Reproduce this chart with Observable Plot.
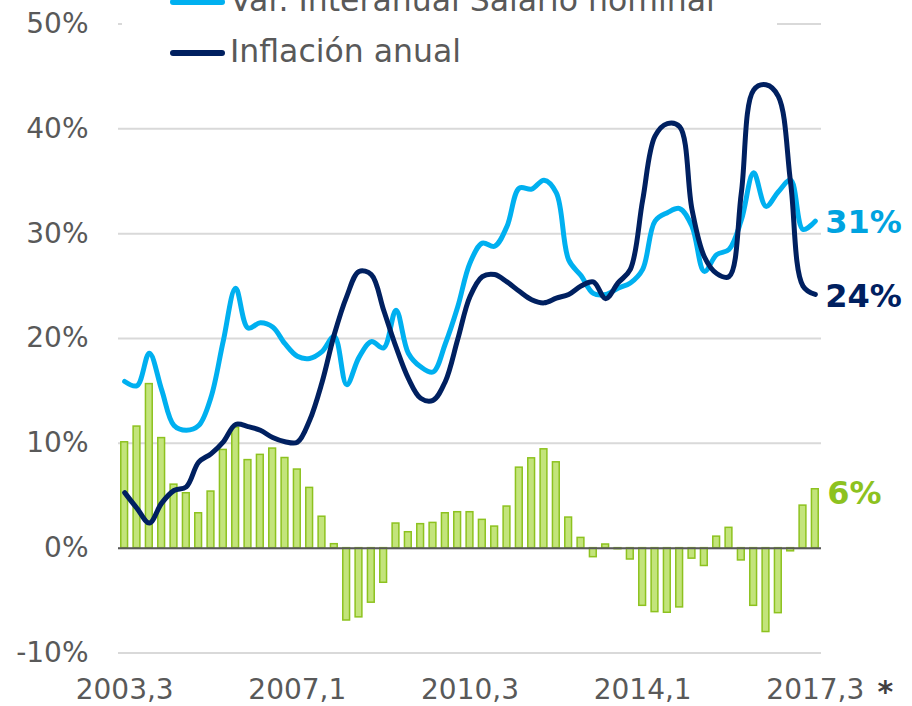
<!DOCTYPE html>
<html>
<head>
<meta charset="utf-8">
<script src="https://cdn.jsdelivr.net/npm/d3@7"></script>
<script src="https://cdn.jsdelivr.net/npm/@observablehq/plot@0.6"></script>
<style>
  html, body { margin: 0; padding: 0; background: #fff; }
  #wrap { position: relative; width: 912px; height: 706px; overflow: hidden; font-family: "DejaVu Sans", sans-serif; }
  #legend { position: absolute; left: 122px; top: 0; width: 655px; height: 74px; background: #fff; }
  .sw { position: absolute; left: 48px; width: 55px; height: 6px; border-radius: 3px; }
  .lt { position: absolute; left: 108px; font-size: 31.5px; color: #595959; white-space: nowrap; line-height: 1; }
</style>
</head>
<body>
<div id="wrap">
  <div id="chart"></div>
  <div id="legend">
    <div class="sw" style="top:-1px;background:#00b0f0"></div>
    <div class="lt" style="top:-15px">Var. Interanual Salario nominal</div>
    <div class="sw" style="top:50px;background:#002060"></div>
    <div class="lt" style="top:36px">Inflación anual</div>
  </div>
</div>
<script>
const quarters = [
  "2003,3","2003,4",
  "2004,1","2004,2","2004,3","2004,4",
  "2005,1","2005,2","2005,3","2005,4",
  "2006,1","2006,2","2006,3","2006,4",
  "2007,1","2007,2","2007,3","2007,4",
  "2008,1","2008,2","2008,3","2008,4",
  "2009,1","2009,2","2009,3","2009,4",
  "2010,1","2010,2","2010,3","2010,4",
  "2011,1","2011,2","2011,3","2011,4",
  "2012,1","2012,2","2012,3","2012,4",
  "2013,1","2013,2","2013,3","2013,4",
  "2014,1","2014,2","2014,3","2014,4",
  "2015,1","2015,2","2015,3","2015,4",
  "2016,1","2016,2","2016,3","2016,4",
  "2017,1","2017,2","2017,3"
];

// Var. interanual salario real (barras)
const salarioReal = [
  10.1, 11.6, 15.65, 10.5, 6.06, 5.24, 3.33, 5.4, 9.37, 11.5,
  8.4, 8.9, 9.5, 8.6, 7.5, 5.75, 3.0, 0.38, -6.9, -6.6,
  -5.2, -3.3, 2.35, 1.52, 2.29, 2.41, 3.33, 3.43, 3.43, 2.7,
  2.06, 3.97, 7.68, 8.57, 9.43, 8.19, 2.92, 0.98, -0.86, 0.35,
  -0.1, -1.08, -5.5, -6.1, -6.16, -5.65, -1.0, -1.7, 1.1, 1.94,
  -1.17, -5.5, -8.0, -6.2, -0.3, 4.06, 5.62
];

// Var. Interanual Salario nominal
const salarioNominal = [
  15.9, 15.5, 18.6, 15.1, 11.7, 11.25, 11.7, 14.4, 19.8, 24.8,
  21.0, 21.5, 21.1, 19.5, 18.3, 18.1, 18.75, 20.2, 15.6, 18.2,
  19.7, 19.1, 22.7, 18.6, 17.3, 16.8, 19.5, 23.0, 27.2, 29.1,
  28.8, 30.7, 34.35, 34.25, 35.1, 33.9, 27.5, 26.0, 24.3, 24.2,
  24.8, 25.3, 26.6, 31.2, 32.0, 32.4, 30.7, 26.4, 28.0, 28.5,
  31.3, 35.8, 32.6, 34.0, 35.1, 30.4, 31.2
];

// Inflación anual
const inflacion = [
  5.3, 3.8, 2.4, 4.3, 5.5, 5.85, 8.2, 9.0, 10.15, 11.8,
  11.6, 11.25, 10.55, 10.15, 10.1, 12.2, 15.8, 20.4, 24.0, 26.4,
  26.1, 22.7, 19.2, 16.2, 14.3, 14.1, 15.9, 19.9, 24.0, 25.9,
  26.1, 25.4, 24.5, 23.7, 23.4, 23.85, 24.2, 25.0, 25.4, 23.8,
  25.3, 26.6, 33.2, 39.3, 40.5, 40.2, 32.3, 27.8, 26.2, 25.9,
  33.9, 43.7, 44.2, 43.1, 34.8, 25.0, 24.2
];

const xTicks = ["2003,3", "2007,1", "2010,3", "2014,1", "2017,3"];
const yTicks = [-10, 0, 10, 20, 30, 40, 50];

const C_NOM = "#00b0f0", C_INF = "#002060", C_BAR = "#c3e47b", C_BAR_S = "#8dc21f";
const C_LBL_NOM = "#00a3e0", C_LBL_BAR = "#8dc21f";

const data = quarters.map((q, i) => ({
  q, real: salarioReal[i], nom: salarioNominal[i], inf: inflacion[i]
}));
const last = data[data.length - 1];

const chart = Plot.plot({
  width: 912,
  height: 706,
  marginLeft: 118,
  marginRight: 91,
  marginTop: 23.5,
  marginBottom: 53.5,
  style: { fontFamily: "DejaVu Sans, sans-serif", fontSize: "28px", color: "#595959", background: "transparent" },
  x: { type: "band", domain: quarters, paddingInner: 0.45, paddingOuter: 0.225, round: false, label: null },
  y: { domain: [-10, 50], label: null },
  marks: [
    Plot.gridY(yTicks, { stroke: "#d9d9d9", strokeOpacity: 1, strokeWidth: 2 }),
    Plot.barY(data, { x: "q", y: "real", fill: C_BAR, stroke: C_BAR_S, strokeWidth: 1.5 }),
    Plot.ruleY([0], { stroke: "#595959", strokeWidth: 2 }),
    Plot.line(data, { x: "q", y: "nom", stroke: C_NOM, strokeWidth: 5, curve: "catmull-rom", strokeLinecap: "round", strokeLinejoin: "round" }),
    Plot.line(data, { x: "q", y: "inf", stroke: C_INF, strokeWidth: 5, curve: "catmull-rom", strokeLinecap: "round", strokeLinejoin: "round" }),
    Plot.text([last], { x: "q", y: "nom", text: d => Math.round(d.nom) + "%", textAnchor: "start", dx: 10, dy: 2, fill: C_LBL_NOM, fontWeight: "bold", fontSize: 32 }),
    Plot.text([last], { x: "q", y: "inf", text: d => Math.round(d.inf) + "%", textAnchor: "start", dx: 10, dy: 2, fill: C_INF, fontWeight: "bold", fontSize: 32 }),
    Plot.text([last], { x: "q", y: "real", text: d => Math.round(d.real) + "%", textAnchor: "start", dx: 12, dy: 4, fill: C_LBL_BAR, fontWeight: "bold", fontSize: 32 }),
    Plot.text([last], { x: "q", y: () => -10, text: () => "*", dx: 70, dy: 39, fill: "#404040", fontWeight: "bold", fontSize: 30 }),
    Plot.axisY({ ticks: yTicks, tickFormat: d => d + "%", tickSize: 0, tickPadding: 30, fontSize: 28, label: null }),
    Plot.axisX({ ticks: xTicks, tickSize: 0, tickPadding: 26, fontSize: 28, label: null })
  ]
});
document.getElementById("chart").appendChild(chart);
</script>
</body>
</html>
